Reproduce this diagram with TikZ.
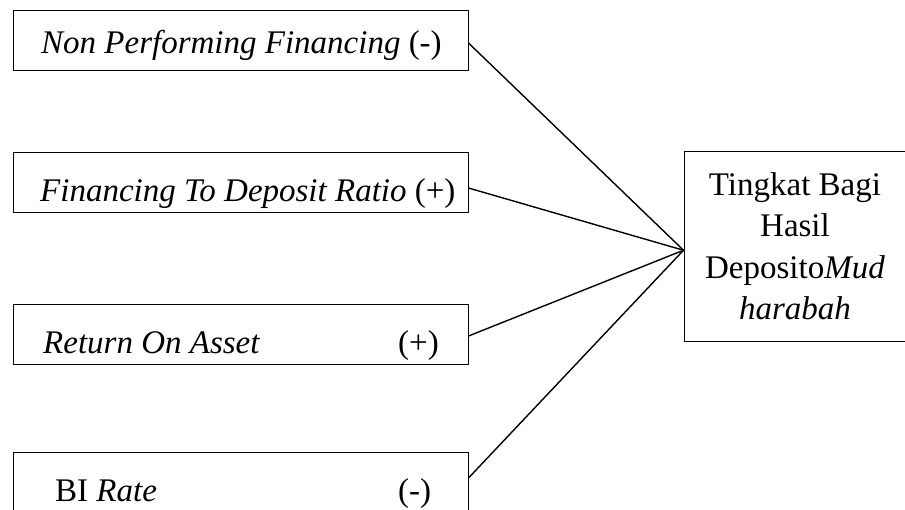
\documentclass[tikz,border=0pt]{standalone}
\usepackage{fontspec}
\setmainfont{Liberation Serif}
\begin{document}
\begin{tikzpicture}[x=1pt,y=-1pt,
  every node/.style={font=\fontsize{33}{41.5}\selectfont},
  box/.style={draw, line width=1pt, rectangle, inner sep=0pt},
  lbl/.style={anchor=base west, inner sep=0pt},
  link/.style={line width=1.4pt}]
\useasboundingbox (0,0) rectangle (905,509);
\node[box, minimum width=455pt, minimum height=60pt] (b1) at (240.5,40) {};
\node[box, minimum width=455pt, minimum height=60pt] (b2) at (240.5,182) {};
\node[box, minimum width=455pt, minimum height=60pt] (b3) at (240.5,334) {};
\node[box, minimum width=455pt, minimum height=60pt] (b4) at (240.5,482) {};
\node[box, minimum width=222pt, minimum height=189.5pt, align=center] (r) at (795,246.25)
  {Tingkat Bagi\\Hasil\\Deposito\textit{Mud}\\\textit{harabah}};
\node[lbl] (t1) at (41,53) {\textit{Non Performing Financing} (-)};
\node[lbl] (t2) at (40,201.5) {\textit{Financing To Deposit Ratio} (+)};
\node[lbl] (t3) at (43,353) {\textit{Return On Asset}};
\node[lbl] (s3) at (398,353) {(+)};
\node[lbl] (t4) at (55,501.5) {BI \textit{Rate}};
\node[lbl] (s4) at (398,501.5) {(-)};
\coordinate (hub) at ([yshift=-4pt]r.west);
\draw[link] ([yshift=-3pt]b1.east) -- (hub);
\draw[link] ([yshift=-6pt]b2.east) -- (hub);
\draw[link] ([yshift=-2pt]b3.east) -- (hub);
\draw[link] ([yshift=4pt]b4.east) -- (hub);
\end{tikzpicture}
\end{document}
